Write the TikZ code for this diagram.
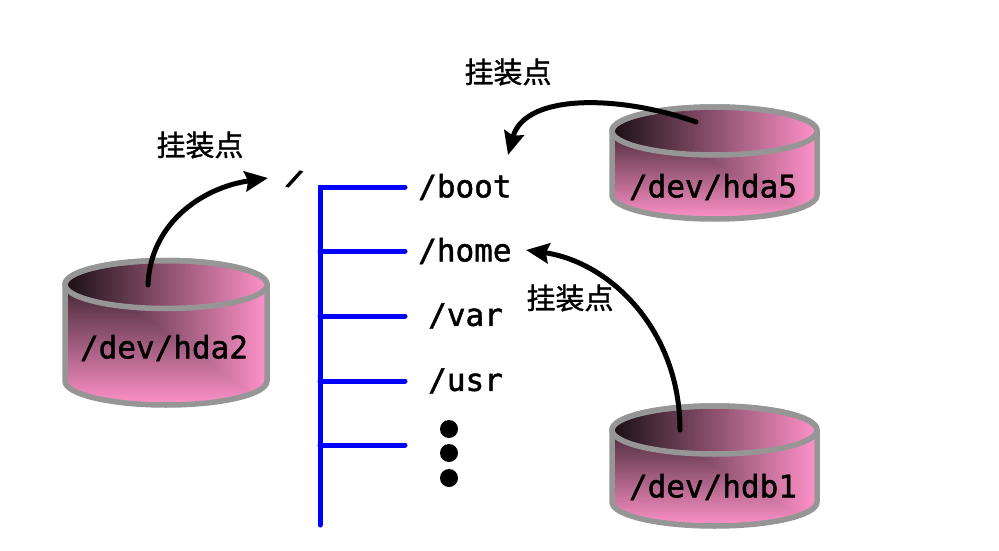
\documentclass[tikz,border=0pt]{standalone}
\usepackage{fontspec}
\setmonofont[FakeBold=1.5]{DejaVu Sans Mono}
\newfontfamily\rootfont[FakeBold=7]{DejaVu Sans Mono}
\newfontfamily\cjk[FakeBold=1.2]{Noto Sans CJK SC}
\usetikzlibrary{arrows.meta}
\definecolor{diskdark}{RGB}{26,16,20}
\definecolor{diskpink}{RGB}{255,146,200}
\definecolor{diskedge}{RGB}{150,150,150}
\definecolor{treeblue}{RGB}{0,0,255}
\tikzset{
  edgeline/.style={draw=diskedge,line width=5.5pt,line join=round},
  treeline/.style={draw=treeblue,line width=5pt,line cap=round,line join=miter},
  mountarrow/.style={draw=black,line width=5pt,line cap=round,-{Stealth[length=23pt,width=20pt,inset=3pt]}},
  pathlabel/.style={font=\ttfamily\fontsize{31}{31}\selectfont,inner sep=0pt,text=black},
  mountlabel/.style={font=\cjk\fontsize{29}{29}\selectfont,inner sep=0pt,text=black},
  blackdot/.style={circle,fill=black,minimum size=18pt,inner sep=0pt}
}
\newcommand{\gradfill}[5]{%
  \begin{scope}
    \clip #1;
    \shade[left color=diskdark,right color=diskpink] (#2,#3) rectangle (#4,#5);
    \begin{scope}
      \clip (#2,#3) -- (#2,#5) -- (#4,#5) -- cycle;
      \shade[top color=diskdark,bottom color=diskpink] (#2,#3) rectangle (#4,#5);
    \end{scope}
  \end{scope}}
% \diskshape{left}{right}{top ellipse centre y}{bottom ellipse centre y}
\newcommand{\diskshape}[4]{%
  \pgfmathsetmacro{\cx}{(#1+#2)/2}
  \pgfmathsetmacro{\rx}{(#2-#1)/2}
  \def\ry{24}
  \pgfmathsetmacro{\ytop}{#3-\ry}
  \pgfmathsetmacro{\ybot}{#4+\ry}
  \def\bodypath{(#1,#3) -- (#1,#4) arc[start angle=180,end angle=360,x radius=\rx,y radius=-\ry] -- (#2,#3) arc[start angle=0,end angle=180,x radius=\rx,y radius=-\ry] -- cycle}
  \def\toppath{(\cx,#3) ellipse[x radius=\rx,y radius=\ry]}
  \gradfill{\bodypath}{#1}{\ytop}{#2}{\ybot}
  \begin{scope}
    \clip \toppath;
    \shade[left color=diskdark,right color=diskpink] (#1,\ytop) rectangle (#2,\ybot);
  \end{scope}
  \path[edgeline] \bodypath;
  \path[edgeline] \toppath;
}
\begin{document}
\begin{tikzpicture}[x=1pt,y=-1pt]
\useasboundingbox (0,0) rectangle (999,551);
\fill[white] (0,0) rectangle (999,551);
% disks
\diskshape{65}{267}{284.5}{381}
\diskshape{612}{817}{131}{195}
\diskshape{612}{817}{430}{502}
\node[pathlabel] (hda2) at (164,348) {/dev/hda2};
\node[pathlabel] (hda5) at (713,187) {/dev/hda5};
\node[pathlabel] (hdb1) at (713,487) {/dev/hdb1};
% tree
\node[pathlabel,font=\rootfont\fontsize{22}{22}\selectfont,rotate=-17] (root) at (294.5,179) {/};
\node[pathlabel,anchor=west] (boot) at (418,187) {/boot};
\node[pathlabel,anchor=west] (home) at (418,251) {/home};
\node[pathlabel,anchor=west] (var) at (428,316) {/var};
\node[pathlabel,anchor=west] (usr) at (428,381) {/usr};
\coordinate (trunktop) at (320,187);
\coordinate (trunkbot) at (320,525);
\coordinate (bhome) at (320,251);
\coordinate (bvar) at (320,316);
\coordinate (busr) at (320,381);
\coordinate (bmore) at (320,445);
\coordinate (bootend) at (405,187);
\coordinate (homeend) at (405,251);
\coordinate (varend) at (405,316);
\coordinate (usrend) at (405,381);
\coordinate (moreend) at (405,445);
\draw[treeline] (trunkbot) -- (trunktop) -- (bootend);
\draw[treeline] (bhome) -- (homeend);
\draw[treeline] (bvar) -- (varend);
\draw[treeline] (busr) -- (usrend);
\draw[treeline] (bmore) -- (moreend);
\node[blackdot] (dota) at (449,429) {};
\node[blackdot] (dotb) at (449,453) {};
\node[blackdot] (dotc) at (449,478) {};
% labels
\node[mountlabel] (ma) at (200,145) {挂装点};
\node[mountlabel] (mb) at (508,72) {挂装点};
\node[mountlabel] (mc) at (570,298) {挂装点};
% arrows
\coordinate (aroot) at (148,285);
\coordinate (troot) at (268,178);
\coordinate (aboot) at (696,122);
\coordinate (tboot) at (508,155);
\coordinate (ahome) at (680,430);
\coordinate (thome) at (526,250);
\draw[mountarrow] (aroot) .. controls (150,225) and (200,188) .. (troot);
\draw[mountarrow] (aboot) .. controls (620,95) and (525,93) .. (tboot);
\draw[mountarrow] (ahome) .. controls (680,330) and (610,262) .. (thome);
\end{tikzpicture}
\end{document}
